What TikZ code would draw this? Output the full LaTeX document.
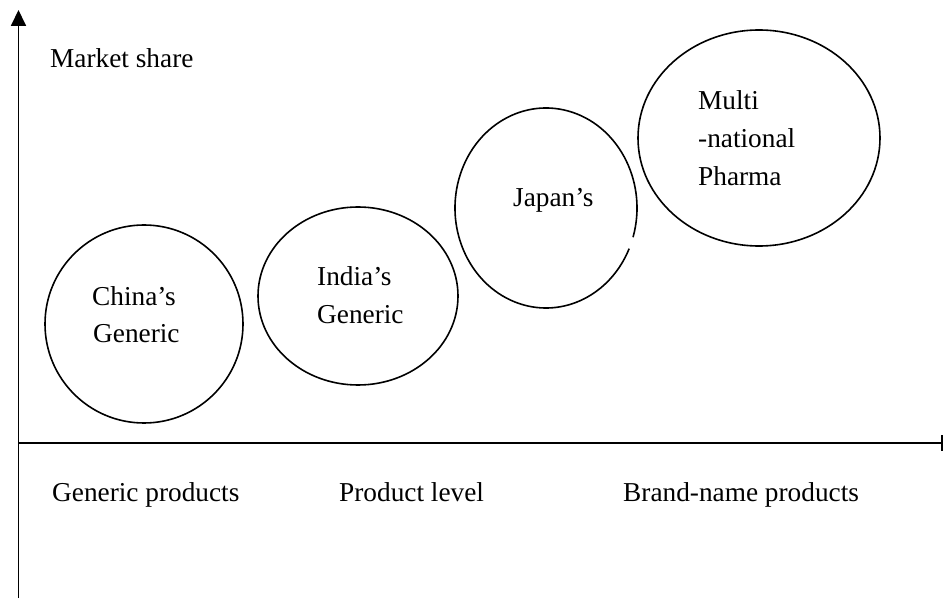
\documentclass[tikz,border=0pt]{standalone}
\usepackage{fontspec}
\setmainfont{Liberation Serif}
\usetikzlibrary{shapes.geometric,arrows.meta,calc}
\begin{document}
\begin{tikzpicture}[x=1pt,y=1pt,
  lbl/.style={anchor=base west,inner sep=0pt,font=\fontsize{27.3}{37.5}\selectfont},
  bubble/.style={ellipse,draw,line width=1.6pt,inner sep=0pt},
  axisline/.style={line width=1.8pt}]
\useasboundingbox (0,0) rectangle (946,598);

% axes
\coordinate (ybot) at (18.5,0);
\coordinate (ytop) at (18.5,588);
\coordinate (xleft) at (18.5,155);
\coordinate (xright) at (943,155);
\draw[axisline,-{Triangle[width=15pt,length=16pt]}] (ybot) -- (ytop);
\draw[axisline,-{Bar[width=16pt]}] (xleft) -- (xright);

% market segments
\node[bubble,minimum width=198pt,minimum height=198pt] (china) at (144,274) {};
\node[bubble,minimum width=200pt,minimum height=178pt] (india) at (358,302) {};
\node[ellipse,inner sep=0pt,minimum width=182pt,minimum height=200pt] (japan) at (546,390) {};
\draw[line width=1.6pt] ($(japan.center)+(-17:91 and 100)$) arc[start angle=-17,end angle=336,x radius=91,y radius=100];
\node[bubble,minimum width=242pt,minimum height=216pt] (mnc) at (759,460) {};

% labels
\node[lbl] (share) at (50,530) {Market share};
\node[lbl] (chinaA) at (92,292) {China’s};
\node[lbl] (chinaB) at (93,255) {Generic};
\node[lbl] (indiaA) at (317,312) {India’s};
\node[lbl] (indiaB) at (317,274) {Generic};
\node[lbl] (japanA) at (513,391) {Japan’s};
\node[lbl] (mncA) at (698,488) {Multi};
\node[lbl] (mncB) at (698,450) {-national};
\node[lbl] (mncC) at (698,412) {Pharma};
\node[lbl] (generic) at (52,97) {Generic products};
\node[lbl] (level) at (339,97) {Product level};
\node[lbl] (brand) at (623,97) {Brand-name products};
\end{tikzpicture}
\end{document}
